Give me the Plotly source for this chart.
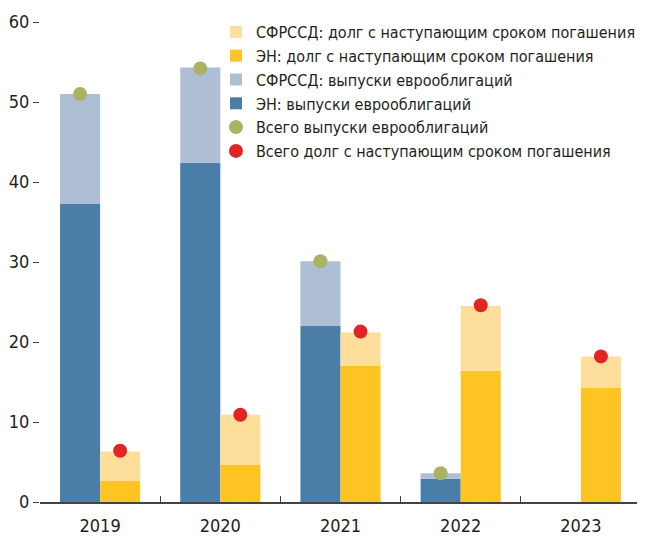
import plotly.graph_objects as go

years = ["2019", "2020", "2021", "2022", "2023"]
en_issuance = [37.3, 42.4, 22.0, 2.9, 0.0]
sfr_issuance = [13.7, 11.9, 8.1, 0.7, 0.0]
en_debt = [2.7, 4.7, 17.0, 16.4, 14.3]
sfr_debt = [3.6, 6.2, 4.2, 8.1, 3.9]
total_issuance = [51.0, 54.2, 30.1, 3.6, None]
total_debt = [6.4, 10.9, 21.3, 24.6, 18.2]

C_EN_ISS = "#4a7da7"
C_SFR_ISS = "#adbed5"
C_EN_DEBT = "#fdc423"
C_SFR_DEBT = "#fddf9b"
C_GREEN = "#abb262"
C_RED = "#e12424"

fig = go.Figure()
fig.add_bar(x=years, y=en_issuance, name="ЭН: выпуски еврооблигаций",
            marker=dict(color=C_EN_ISS, line=dict(width=0)), offsetgroup="iss", legendrank=4)
fig.add_bar(x=years, y=sfr_issuance, base=en_issuance, name="СФРССД: выпуски еврооблигаций",
            marker=dict(color=C_SFR_ISS, line=dict(width=0)), offsetgroup="iss", legendrank=3)
fig.add_bar(x=years, y=en_debt, name="ЭН: долг с наступающим сроком погашения",
            marker=dict(color=C_EN_DEBT, line=dict(width=0)), offsetgroup="debt", legendrank=2)
fig.add_bar(x=years, y=sfr_debt, base=en_debt, name="СФРССД: долг с наступающим сроком погашения",
            marker=dict(color=C_SFR_DEBT, line=dict(width=0)), offsetgroup="debt", legendrank=1)
fig.add_scatter(x=years, y=total_issuance, mode="markers", name="Всего выпуски еврооблигаций",
                marker=dict(color=C_GREEN, size=14, line=dict(width=0)), offsetgroup="iss", legendrank=5)
fig.add_scatter(x=years, y=total_debt, mode="markers", name="Всего долг с наступающим сроком погашения",
                marker=dict(color=C_RED, size=14, line=dict(width=0)), offsetgroup="debt", legendrank=6)

cond = "DejaVu Sans Condensed"
fig.update_layout(
    width=645, height=538,
    margin=dict(l=32, r=12, t=14, b=44, autoexpand=False),
    plot_bgcolor="white", paper_bgcolor="white",
    barmode="group", bargap=1/3, bargroupgap=0,
    scattermode="group", scattergap=1/3,
    font=dict(family=cond, size=16, color="#231f20"),
    showlegend=True,
    legend=dict(x=0.2928, y=1.0146, xanchor="left", yanchor="top", bgcolor="rgba(0,0,0,0)",
                font=dict(family=cond, size=16, color="#231f20"), tracegroupgap=0,
                traceorder="normal", itemwidth=30),
)
fig.update_xaxes(type="category", showline=True, linecolor="#444", linewidth=1.5,
                 ticks="inside", tickson="boundaries", ticklen=6, tickcolor="#444",
                 ticklabelstandoff=7,
                 showgrid=False, automargin=False, tickfont=dict(family=cond, size=18))
fig.update_yaxes(range=[0, 60], dtick=10, ticks="outside", ticklen=6, tickcolor="#444",
                 mirror="ticks", showgrid=False, zeroline=False, showline=False,
                 automargin=False, tickfont=dict(family=cond, size=18))

fig.write_html("out.html")
